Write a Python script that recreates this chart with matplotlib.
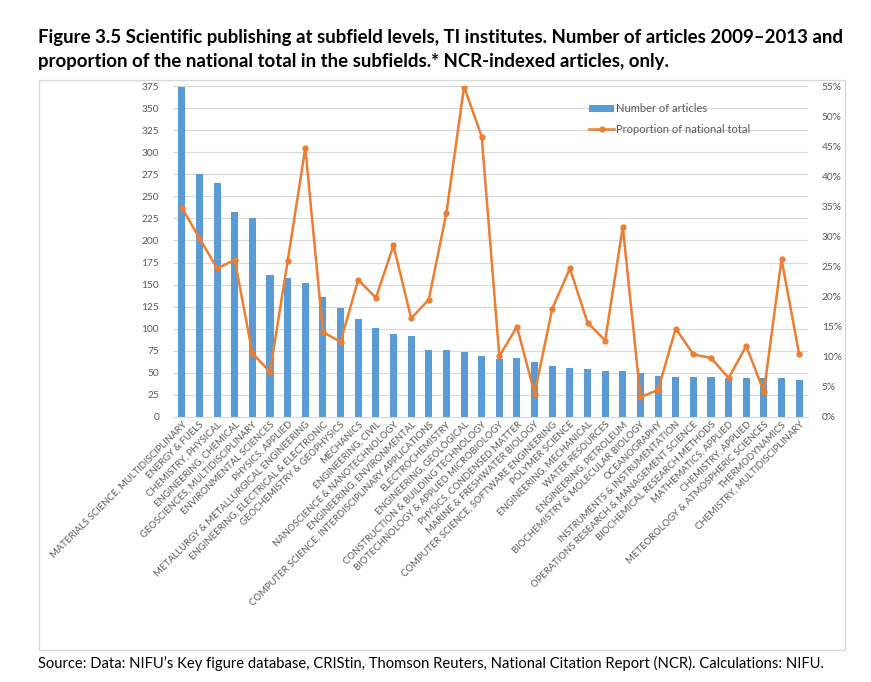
import numpy as np
import matplotlib
matplotlib.use("Agg")
import matplotlib.pyplot as plt
from matplotlib.patches import Rectangle

# Subfields, number of articles and share of the national total
subfields = [
    "MATERIALS SCIENCE, MULTIDISCIPLINARY", "ENERGY & FUELS", "CHEMISTRY, PHYSICAL",
    "ENGINEERING, CHEMICAL", "GEOSCIENCES, MULTIDISCIPLINARY", "ENVIRONMENTAL SCIENCES",
    "PHYSICS, APPLIED", "METALLURGY & METALLURGICAL ENGINEERING",
    "ENGINEERING, ELECTRICAL & ELECTRONIC", "GEOCHEMISTRY & GEOPHYSICS", "MECHANICS",
    "ENGINEERING, CIVIL", "NANOSCIENCE & NANOTECHNOLOGY", "ENGINEERING, ENVIRONMENTAL",
    "COMPUTER SCIENCE, INTERDISCIPLINARY APPLICATIONS", "ELECTROCHEMISTRY",
    "ENGINEERING, GEOLOGICAL", "CONSTRUCTION & BUILDING TECHNOLOGY",
    "BIOTECHNOLOGY & APPLIED MICROBIOLOGY", "PHYSICS, CONDENSED MATTER",
    "MARINE & FRESHWATER BIOLOGY", "COMPUTER SCIENCE, SOFTWARE ENGINEERING",
    "POLYMER SCIENCE", "ENGINEERING, MECHANICAL", "WATER RESOURCES",
    "ENGINEERING, PETROLEUM", "BIOCHEMISTRY & MOLECULAR BIOLOGY", "OCEANOGRAPHY",
    "INSTRUMENTS & INSTRUMENTATION", "OPERATIONS RESEARCH & MANAGEMENT SCIENCE",
    "BIOCHEMICAL RESEARCH METHODS", "MATHEMATICS, APPLIED", "CHEMISTRY, APPLIED",
    "METEOROLOGY & ATMOSPHERIC SCIENCES", "THERMODYNAMICS", "CHEMISTRY, MULTIDISCIPLINARY",
]
articles = [374, 275, 265, 232, 226, 161, 157, 152, 136, 123, 111, 101, 94, 92, 76, 76,
            74, 69, 66, 67, 62, 58, 55, 54, 52, 52, 50, 46, 45, 45, 45, 44, 44, 44, 44, 42]
share = [34.8, 29.7, 24.7, 26.1, 10.6, 7.5, 25.9, 44.7, 14.1, 12.5, 22.8, 19.8, 28.5, 16.4,
         19.5, 33.9, 54.9, 46.6, 10.1, 15.0, 3.9, 18.0, 24.7, 15.7, 12.7, 31.6, 3.3, 4.5,
         14.7, 10.4, 9.8, 6.5, 11.8, 4.2, 26.2, 10.4]

blue = "#5B9BD5"
orange = "#ED7D31"
grey = "#595959"

plt.rcParams["font.family"] = ["Lato", "DejaVu Sans"]

fig = plt.figure(figsize=(8.71, 6.82), dpi=100)
W, H = 871, 682

# light frame around the chart area
fig.patches.append(Rectangle((39 / W, 1 - 650 / H), (845 - 39) / W, (650 - 80) / H,
                             transform=fig.transFigure, fill=False,
                             edgecolor="#D9D9D9", linewidth=1))

ax = fig.add_axes([173 / W, 1 - 417 / H, (808 - 173) / W, (417 - 86) / H])
x = np.arange(len(subfields))
bars = ax.bar(x, articles, width=0.4, color=blue, zorder=2, label="Number of articles")
ax.set_xlim(-0.5, len(subfields) - 0.5)
ax.set_ylim(0, 375)
ax.set_yticks(np.arange(0, 376, 25))
ax.grid(axis="y", color="#D9D9D9", linewidth=0.8, zorder=0)
ax.set_axisbelow(True)
for s in ["top", "right", "left"]:
    ax.spines[s].set_visible(False)
ax.spines["bottom"].set_color("#D9D9D9")
ax.tick_params(axis="y", length=0, labelsize=7.3, labelcolor=grey, pad=10)
ax.tick_params(axis="x", length=0, labelsize=6.8, labelcolor=grey, pad=2)
ax.set_xticks(x)
ax.set_xticklabels(subfields, rotation=45, ha="right", rotation_mode="anchor")

ax2 = ax.twinx()
line, = ax2.plot(x, np.array(share) / 100, color=orange, linewidth=1.8, marker="o",
                 markersize=3.5, zorder=3, label="Proportion of national total")
ax2.set_ylim(0, 0.55)
ax2.set_yticks(np.arange(0, 0.551, 0.05))
ax2.set_yticklabels([f"{int(round(v * 100))}%" for v in np.arange(0, 0.551, 0.05)])
for s in ["top", "right", "left", "bottom"]:
    ax2.spines[s].set_visible(False)
ax2.tick_params(axis="y", length=0, labelsize=7.3, labelcolor=grey, pad=10)

fig.legend(handles=[bars, line], loc="upper left", bbox_to_anchor=(585 / W, 1 - 99 / H),
           frameon=False, fontsize=8, labelcolor=grey, handlelength=2.2,
           handletextpad=0.2, labelspacing=0.85, borderaxespad=0)

fig.text(38 / W, 1 - 38 / H,
         "Figure 3.5 Scientific publishing at subfield levels, TI institutes. Number of articles 2009\u20132013 and",
         fontsize=13.4, fontweight="bold", va="center", ha="left")
fig.text(38 / W, 1 - 62 / H,
         "proportion of the national total in the subfields.* NCR-indexed articles, only.",
         fontsize=13.4, fontweight="bold", va="center", ha="left")
fig.text(38 / W, 1 - 663 / H,
         "Source: Data: NIFU\u2019s Key figure database, CRIStin, Thomson Reuters, National Citation Report (NCR). Calculations: NIFU.",
         fontsize=10.6, va="center", ha="left")

fig.savefig("out.png", dpi=100)
